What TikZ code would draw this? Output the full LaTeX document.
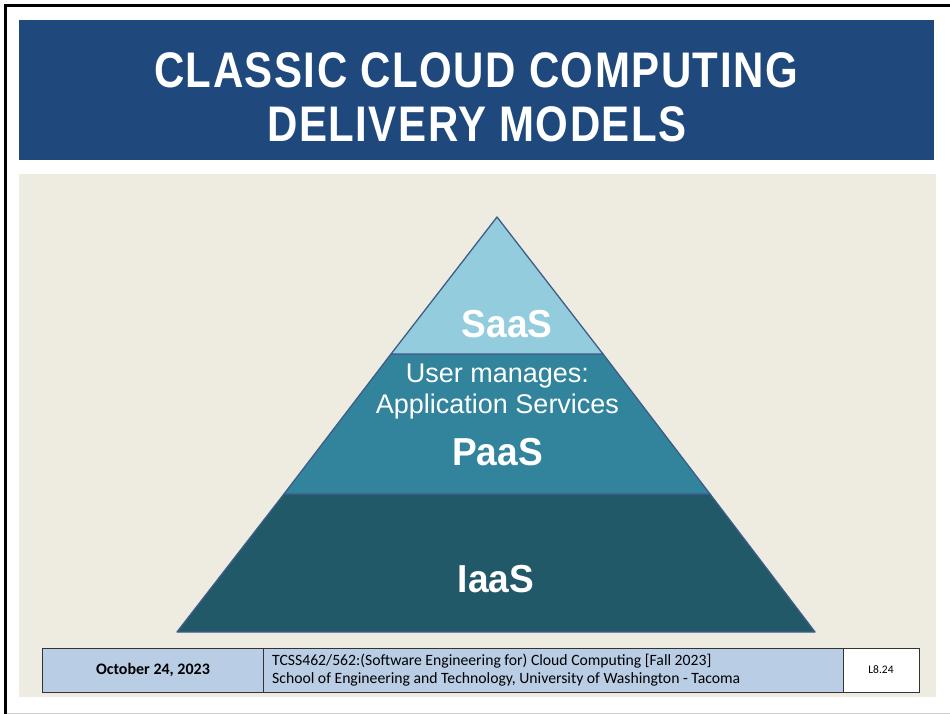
\documentclass[tikz,border=0pt]{standalone}
\usepackage{fontspec}
\setmainfont{Liberation Sans}
\newfontfamily\titlefont[FakeStretch=0.84,LetterSpace=3]{Liberation Sans}
\newfontfamily\layerfont[FakeStretch=0.95]{Liberation Sans}
\newfontfamily\midfont{Liberation Sans}
\newfontfamily\footfont{Carlito}
\definecolor{titleblue}{RGB}{31,73,125}
\definecolor{beige}{RGB}{238,236,225}
\definecolor{saas}{RGB}{147,205,221}
\definecolor{paas}{RGB}{49,132,155}
\definecolor{iaas}{RGB}{33,89,104}
\definecolor{edge}{RGB}{62,92,138}
\definecolor{footblue}{RGB}{185,205,229}
\tikzset{
  layer/.style={draw=edge, line width=1.3pt, line join=round},
  bigtxt/.style={text=white, font=\layerfont\bfseries\fontsize{39}{41}\selectfont, anchor=base, inner sep=0pt},
  midtxt/.style={text=white, font=\midfont\fontsize{27}{29}\selectfont, anchor=base, inner sep=0pt},
  titletxt/.style={text=white, font=\titlefont\bfseries\fontsize{50}{54}\selectfont, anchor=base, inner sep=0pt},
  cell/.style={draw=black!80, line width=0.8pt},
  foottxt/.style={font=\footfont\fontsize{15.7}{18}\selectfont, inner sep=0pt}
}
\begin{document}
\begin{tikzpicture}[x=1pt,y=-1pt]
\useasboundingbox (0,0) rectangle (950,714);
\fill[white] (0,0) rectangle (950,714);
% frame lines
\fill[black] (4,4) rectangle (950,7);
\fill[black] (4,4) rectangle (7,714);
\fill[black!20] (7,712.5) rectangle (950,714);
% title band
\fill[titleblue] (19,20) rectangle (934,160);
\node[titletxt] (t1) at (476,88) {CLASSIC CLOUD COMPUTING};
\node[titletxt] (t2) at (477,142) {DELIVERY MODELS};
% content area
\fill[beige] (19,174) rectangle (936,697);
% pyramid
\coordinate (apex) at (497,217);
\coordinate (bl) at (177,632);
\coordinate (br) at (815,632);
\coordinate (s1l) at (391,354);
\coordinate (s1r) at (603,354);
\coordinate (s2l) at (284,494);
\coordinate (s2r) at (710,494);
\filldraw[layer, fill=iaas] (s2l) -- (s2r) -- (br) -- (bl) -- cycle;
\filldraw[layer, fill=paas] (s1l) -- (s1r) -- (s2r) -- (s2l) -- cycle;
\filldraw[layer, fill=saas] (apex) -- (s1r) -- (s1l) -- cycle;
\node[bigtxt] (saasl) at (507,337) {SaaS};
\node[midtxt] (um) at (497.5,382) {User manages:};
\node[midtxt] (as) at (497.5,413) {Application Services};
\node[bigtxt] (paasl) at (497.5,465) {PaaS};
\node[bigtxt] (iaasl) at (496,592) {IaaS};
% footer
\filldraw[cell, fill=footblue] (42,648) rectangle (263,692);
\filldraw[cell, fill=footblue] (263,648) rectangle (843,692);
\filldraw[cell, fill=white] (843,648) rectangle (919,692);
\node[foottxt, font=\footfont\bfseries\fontsize{16}{18}\selectfont] (date) at (153,670) {October 24, 2023};
\node[foottxt, anchor=west, align=left] (course) at (272,670) {TCSS462/562:(Software Engineering for) Cloud Computing [Fall 2023]\\School of Engineering and Technology, University of Washington - Tacoma};
\node[foottxt, font=\footfont\fontsize{11.5}{13}\selectfont] (pg) at (881,670) {L8.24};
\end{tikzpicture}
\end{document}
